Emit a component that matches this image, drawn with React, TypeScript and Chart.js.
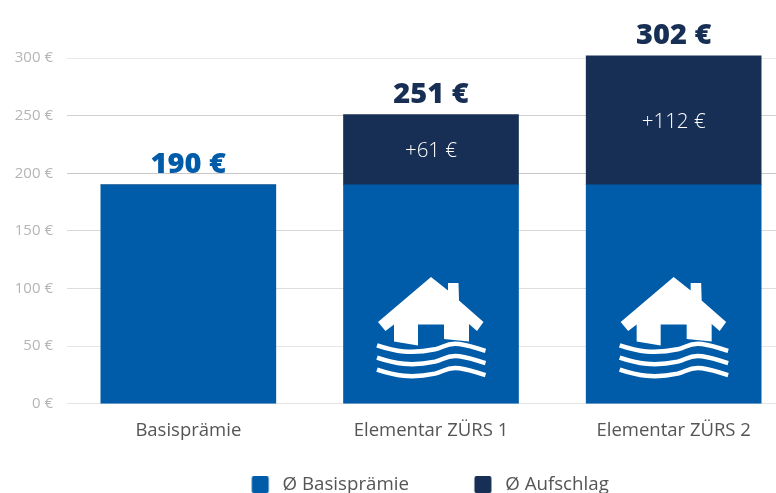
import React, { useEffect, useRef } from "react";
import { Chart, registerables } from "chart.js";

Chart.register(...registerables);

const categories = ["Basisprämie", "Elementar ZÜRS 1", "Elementar ZÜRS 2"];
const basis = [190, 190, 190];
const aufschlag = [0, 61, 112];
const totals = ["190 €", "251 €", "302 €"];
const surchargeLabels = ["", "+61 €", "+112 €"];
const iconBars = [false, true, true];
const yTicks = [0, 50, 100, 150, 200, 250, 300];
const gridShades = ["#e4e4e4", "#e6e6e6", "#dddddd", "#d8d8d8", "#c8c8c8", "#d0d0d0", "#e8e8e8"];
const BLUE = "#005ca9";
const NAVY = "#172f54";
const FONT = '"Open Sans", "Noto Sans", sans-serif';

function housePath(ctx: CanvasRenderingContext2D, cx: number, top: number) {
  const p = (pts: number[][]) => {
    ctx.beginPath();
    pts.forEach(([x, y], i) => (i ? ctx.lineTo(cx + x, top + y) : ctx.moveTo(cx + x, top + y)));
    ctx.closePath();
    ctx.fill();
  };
  ctx.fillStyle = "#ffffff";
  p([
    [0, 0], [17, 13.5], [17, 6], [27.5, 6], [28, 23.5], [52.5, 45], [46, 54], [38, 47], [38, 64.5],
    [13, 62], [13, 47.5], [-13, 47.5], [-13, 68.5], [-37, 64.5], [-37, 47.5], [-45.5, 54], [-53, 45],
  ]);
  ctx.strokeStyle = "#ffffff";
  ctx.lineWidth = 4.5;
  [68.3, 80.6, 92.6].forEach((o) => {
    const y = top + o;
    ctx.beginPath();
    ctx.moveTo(cx - 54, y);
    ctx.bezierCurveTo(cx - 36, y + 6, cx - 20, y + 9, cx + 4, y + 4);
    ctx.bezierCurveTo(cx + 12, y + 2, cx + 15, y - 1.5, cx + 24, y - 1.5);
    ctx.bezierCurveTo(cx + 35, y - 1.5, cx + 45, y + 3, cx + 54.5, y + 5.5);
    ctx.stroke();
  });
}

const overlay = {
  id: "overlay",
  afterDatasetsDraw(chart: any) {
    const { ctx, scales } = chart;
    const x = scales.x;
    const y = scales.y;
    ctx.save();
    categories.forEach((_, i) => {
      const cx = x.getPixelForValue(i);
      const total = basis[i] + aufschlag[i];
      ctx.textAlign = "center";
      ctx.textBaseline = "alphabetic";
      ctx.font = `800 29px ${FONT}`;
      ctx.fillStyle = aufschlag[i] ? NAVY : BLUE;
      ctx.fillText(totals[i], cx, y.getPixelForValue(total) - 11.5);
      if (aufschlag[i]) {
        ctx.font = `300 20.5px ${FONT}`;
        ctx.fillStyle = "#ffffff";
        ctx.textBaseline = "middle";
        ctx.fillText(surchargeLabels[i], cx, y.getPixelForValue(basis[i] + aufschlag[i] / 2) + 2);
      }
      if (iconBars[i]) housePath(ctx, cx, y.getPixelForValue(110));
    });
    ctx.restore();
  },
};

function swatch(color: string) {
  const c = document.createElement("canvas");
  c.width = 87;
  c.height = 17;
  const g = c.getContext("2d")!;
  g.fillStyle = color;
  g.beginPath();
  g.roundRect(65.5, 0, 17, 17, 2);
  g.fill();
  return c;
}

export default function App() {
  const ref = useRef<HTMLCanvasElement>(null);
  useEffect(() => {
    const chart = new Chart(ref.current!, {
      type: "bar",
      data: {
        labels: categories,
        datasets: [
          { label: "Ø Basisprämie", data: basis, backgroundColor: BLUE, stack: "a" },
          { label: "Ø Aufschlag", data: aufschlag, backgroundColor: NAVY, stack: "a" },
        ],
      },
      options: {
        responsive: false,
        animation: false,
        layout: { padding: { top: 46.5, right: 76, left: 0, bottom: 0 } },
        datasets: { bar: { barThickness: 175, borderWidth: 0 } },
        plugins: {
          tooltip: { enabled: false },
          legend: {
            position: "bottom",
            labels: {
              usePointStyle: true,
              pointStyleWidth: 87,
              boxHeight: 17,
              padding: 0,
              color: "#555555",
              font: { family: FONT, size: 18.7 },
              generateLabels(c: any) {
                return Chart.defaults.plugins.legend.labels.generateLabels(c).map((item: any, i: number) => ({
                  ...item,
                  pointStyle: swatch(i === 0 ? BLUE : NAVY),
                }));
              },
            },
          },
        },
        scales: {
          x: {
            stacked: true,
            grid: { display: false },
            border: { display: false },
            afterFit(axis: any) {
              axis.height = 71.5;
            },
            ticks: { color: "#555555", font: { family: FONT, size: 18.5 }, padding: 8, maxRotation: 0 },
          },
          y: {
            stacked: true,
            min: 0,
            max: 310,
            afterBuildTicks(axis: any) {
              axis.ticks = yTicks.map((value) => ({ value }));
            },
            grid: {
              color: (c: any) => gridShades[yTicks.indexOf(c.tick?.value)] ?? "#d8d8d8",
              lineWidth: 1,
              drawTicks: false,
            },
            border: { display: false },
            afterFit(axis: any) {
              axis.width = 67;
            },
            ticks: {
              color: "#b5b5b5",
              font: { family: FONT, size: 15 },
              padding: 14,
              callback: (v: any) => `${v} €`,
            },
          },
        },
      },
      plugins: [overlay],
    } as any);
    return () => chart.destroy();
  }, []);
  return (
    <div style={{ position: "fixed", left: 0, top: 0, width: 776, height: 493, overflow: "hidden", background: "#fff" }}>
      <canvas ref={ref} width={871} height={504} style={{ display: "block" }} />
    </div>
  );
}
